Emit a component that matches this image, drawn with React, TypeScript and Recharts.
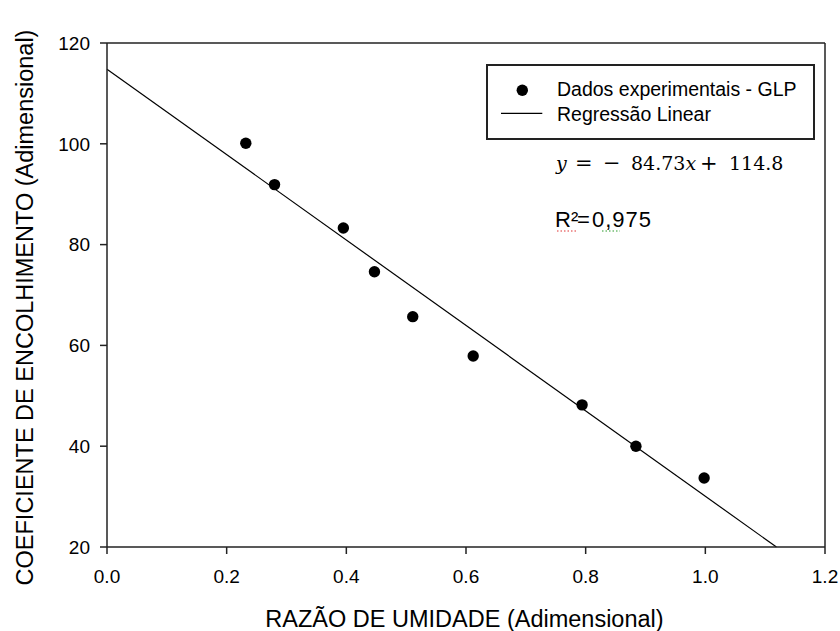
import { ScatterChart, Scatter, XAxis, YAxis, ReferenceLine, Legend, Label } from 'recharts'

document.body.style.margin = '0'

// moisture ratio vs. shrinkage coefficient, LPG drying runs
const moistureRatio = [0.232, 0.28, 0.395, 0.447, 0.511, 0.612, 0.794, 0.884, 0.998]
const shrinkage = [100.1, 91.9, 83.3, 74.6, 65.7, 57.9, 48.2, 40.0, 33.7]

const xTicks = [0, 0.2, 0.4, 0.6, 0.8, 1.0, 1.2]
const yTicks = [20, 40, 60, 80, 100, 120]

// linear fit
const slope = -84.73
const intercept = 114.8
const rSquared = '0,975'

const points = moistureRatio.map((x, i) => ({ x, y: shrinkage[i] }))
const fitEndX = (yTicks[0] - intercept) / slope

const FONT = '"Liberation Sans", Arial, sans-serif'
const AXIS_COLOR = '#222'

const tickStyle = { fill: '#000', fontSize: 19, fontFamily: FONT }

function Dot(props: any) {
  return <circle cx={props.cx} cy={props.cy} r={5.7} fill="#000" />
}

function XTitle({ viewBox }: any) {
  return (
    <text
      x={viewBox.x + viewBox.width / 2 - 1.5}
      y={viewBox.y + 79.7}
      textAnchor="middle"
      fontSize={23.5}
      fontFamily={FONT}
      fill="#000"
    >
      RAZÃO DE UMIDADE (Adimensional)
    </text>
  )
}

function YTitle({ viewBox }: any) {
  const x = 33.3
  const y = viewBox.y + viewBox.height / 2 + 12.5
  return (
    <text
      x={x}
      y={y}
      transform={`rotate(-90 ${x} ${y})`}
      textAnchor="middle"
      fontSize={23.5}
      fontFamily={FONT}
      fill="#000"
    >
      COEFICIENTE DE ENCOLHIMENTO (Adimensional)
    </text>
  )
}

function LegendBox() {
  const textProps = { fontSize: 19.5, fontFamily: FONT, fill: '#000' }
  return (
    <svg width={329} height={76} style={{ display: 'block' }}>
      <rect x={1} y={1} width={327} height={74} fill="#fff" stroke={AXIS_COLOR} strokeWidth={2} />
      <circle cx={36.3} cy={26.3} r={5.7} fill="#000" />
      <line x1={15} x2={56.3} y1={49.3} y2={49.3} stroke="#000" strokeWidth={1.2} />
      <text x={71} y={32.3} {...textProps}>Dados experimentais - GLP</text>
      <text x={71} y={57.3} {...textProps}>Regressão Linear</text>
    </svg>
  )
}

function FitAnnotation() {
  const serif = '"DejaVu Serif", "Liberation Serif", serif'
  return (
    <svg
      width={840}
      height={631}
      style={{ position: 'absolute', left: 0, top: 0, pointerEvents: 'none' }}
    >
      <text y={170} fontSize={19} fontFamily={serif} fill="#000">
        <tspan x={556} fontStyle="italic">y</tspan>
        <tspan x={575} fontSize={21}>=</tspan>
        <tspan x={603} fontSize={21}>−</tspan>
        <tspan x={631}>{Math.abs(slope).toFixed(2)}</tspan>
        <tspan fontStyle="italic">x</tspan>
        <tspan x={700} fontSize={21}>+</tspan>
        <tspan x={729}>{intercept.toFixed(1)}</tspan>
      </text>
      <text y={226.7} fontSize={22} fontFamily={FONT} fill="#000">
        <tspan x={555}>R²</tspan>
        <tspan x={577}>=</tspan>
        <tspan x={592} letterSpacing={1}>{rSquared}</tspan>
      </text>
      <line x1={557} x2={577} y1={231} y2={231} stroke="#e03030" strokeWidth={1.2} strokeDasharray="1.5 2" />
      <line x1={602} x2={620} y1={231} y2={231} stroke="#2a9a2a" strokeWidth={1.2} strokeDasharray="1.5 2" />
    </svg>
  )
}

export default function App() {
  return (
    <div style={{ position: 'relative', width: 840, height: 631, background: '#fff', overflow: 'hidden' }}>
      <ScatterChart width={840} height={631} margin={{ top: 43, right: 15, bottom: 0, left: 0 }}>
        <XAxis
          type="number"
          dataKey="x"
          domain={[0, 1.2]}
          ticks={xTicks}
          tickFormatter={v => Number(v).toFixed(1)}
          height={84}
          tickSize={7}
          tickMargin={16}
          tick={tickStyle}
          stroke={AXIS_COLOR}
          strokeWidth={1.5}
          allowDataOverflow
        >
          <Label content={XTitle} />
        </XAxis>
        <YAxis
          type="number"
          dataKey="y"
          domain={[20, 120]}
          ticks={yTicks}
          width={107}
          tickSize={7}
          tickMargin={10}
          tick={tickStyle}
          stroke={AXIS_COLOR}
          strokeWidth={1.5}
          allowDataOverflow
        >
          <Label content={YTitle} />
        </YAxis>
        <ReferenceLine y={120} stroke={AXIS_COLOR} strokeWidth={1.5} />
        <ReferenceLine x={1.2} stroke={AXIS_COLOR} strokeWidth={1.5} />
        <ReferenceLine
          segment={[
            { x: 0, y: intercept },
            { x: fitEndX, y: yTicks[0] },
          ]}
          stroke="#000"
          strokeWidth={1.2}
        />
        <Scatter data={points} shape={Dot} isAnimationActive={false} />
        <Legend
          layout="horizontal"
          align="center"
          verticalAlign="middle"
          content={() => <LegendBox />}
          wrapperStyle={{ position: 'absolute', left: 486, top: 64, width: 329, height: 76, margin: 0, padding: 0 }}
        />
      </ScatterChart>
      <FitAnnotation />
    </div>
  )
}
